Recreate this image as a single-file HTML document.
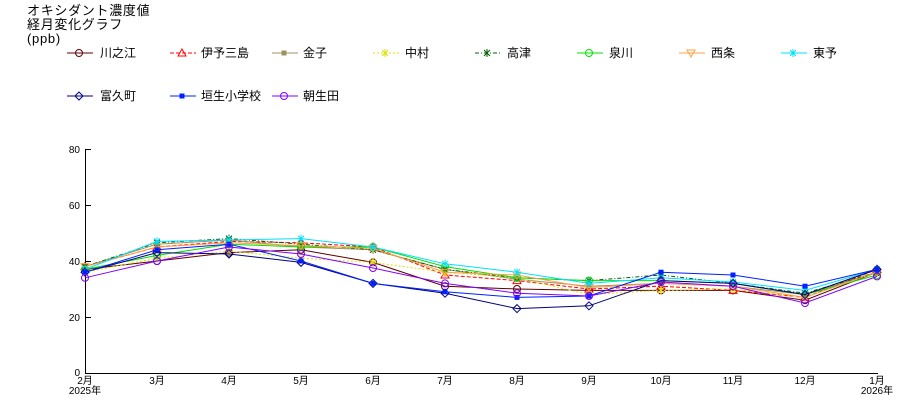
<!DOCTYPE html>
<html><head><meta charset="utf-8"><style>
body{margin:0;background:#fff;}
svg text{font-family:"Liberation Sans","Noto Sans CJK JP",sans-serif;}
</style></head><body>
<svg id="c" width="900" height="400" xmlns="http://www.w3.org/2000/svg">
<g font-size="13" fill="#000" letter-spacing="0.7">
<text x="27" y="15">オキシダント濃度値</text>
<text x="27" y="29">経月変化グラフ</text>
<text x="27" y="43">(ppb)</text>
</g>
<g font-size="12" fill="#000">
<text x="100" y="57">川之江</text>
<text x="201" y="57">伊予三島</text>
<text x="303" y="57">金子</text>
<text x="405" y="57">中村</text>
<text x="507" y="57">高津</text>
<text x="609" y="57">泉川</text>
<text x="711" y="57">西条</text>
<text x="813" y="57">東予</text>
<text x="100" y="100">富久町</text>
<text x="201" y="100">垣生小学校</text>
<text x="303" y="100">朝生田</text>
</g>
<g stroke="#000" stroke-width="1" fill="none">
<line x1="85.5" y1="149" x2="85.5" y2="373"/>
<line x1="85" y1="373.5" x2="878" y2="373.5"/>
<line x1="85" y1="149.5" x2="91" y2="149.5"/>
<line x1="85" y1="205.5" x2="91" y2="205.5"/>
<line x1="85" y1="261.5" x2="91" y2="261.5"/>
<line x1="85" y1="317.5" x2="91" y2="317.5"/>
</g>
<g font-size="10" fill="#000" text-anchor="end">
<text x="80" y="153">80</text>
<text x="80" y="209">60</text>
<text x="80" y="265">40</text>
<text x="80" y="321">20</text>
<text x="80" y="376">0</text>
</g>
<g font-size="10" fill="#000" text-anchor="middle">
<text x="85" y="384">2月</text><text x="85" y="394">2025年</text>
<text x="157" y="384">3月</text>
<text x="229" y="384">4月</text>
<text x="301" y="384">5月</text>
<text x="373" y="384">6月</text>
<text x="445" y="384">7月</text>
<text x="517" y="384">8月</text>
<text x="589" y="384">9月</text>
<text x="661" y="384">10月</text>
<text x="733" y="384">11月</text>
<text x="805" y="384">12月</text>
<text x="877" y="384">1月</text><text x="877" y="394">2026年</text>
</g>
<g id="series"></g>
</svg>
<script>
var S=[
["#600000","","o",[37,40,43,44,39.5,31,30,29.5,29.5,29.5,26,36],67,53],
["#ff0000","4,2","t",[38,45,47,46.5,45,35,33,30,31,29.5,27,37],170,53],
["#a09060","","s",[38,46,47.5,45,44,37,33.5,31,32,31,28,36],272,53],
["#e0e000","2,2","*",[36,41,43.5,41,39.5,36,34,28,29.5,30,27,36],373,53],
["#006000","4,2,1,2","x",[38,46.5,48,46,44,37,34,33,35,32,28.5,36],475,53],
["#00e000","","o",[37,42,46,45,45,38,34,33,33,32,28,35],577,53],
["#ffa040","","v",[38,45,46.5,45.5,44.5,36,35,30.5,32,31,27,36],679,53],
["#00e0ff","","*",[37,47,47.5,48,45,39,36,32,34,32.5,29.5,37],781,53],
["#000080","","d",[36,43,42.5,39.5,32,28.5,23,24,33,32,28,37],67,96],
["#0020ff","","s",[36,44,46,40,32,29,27,27.5,36,35,31,37],170,96],
["#8000ff","","o",[34,40,45,42.5,37.5,32,28.5,27.5,32.5,31,25,34.5],272,96]
];
var g=document.getElementById("series"),ns="http://www.w3.org/2000/svg";
function el(t,a){var e=document.createElementNS(ns,t);for(var k in a)e.setAttribute(k,a[k]);g.appendChild(e);return e;}
function mk(m,x,y,c){var a={stroke:c,fill:"none","stroke-width":1};
 if(m=="o"){a.cx=x;a.cy=y;a.r=3.5;el("circle",a);}
 else if(m=="t"){a.points=(x)+","+(y-4)+" "+(x-4)+","+(y+3)+" "+(x+4)+","+(y+3);el("polygon",a);}
 else if(m=="v"){a.points=(x)+","+(y+4)+" "+(x-4)+","+(y-3)+" "+(x+4)+","+(y-3);el("polygon",a);}
 else if(m=="d"){a.points=x+","+(y-4)+" "+(x+4)+","+y+" "+x+","+(y+4)+" "+(x-4)+","+y;el("polygon",a);}
 else if(m=="s"){a.x=x-2;a.y=y-2;a.width=4;a.height=4;a.fill=c;el("rect",a);}
 else {el("path",{d:"M"+(x-3)+" "+(y-3)+"L"+(x+3)+" "+(y+3)+"M"+(x+3)+" "+(y-3)+"L"+(x-3)+" "+(y+3)+"M"+x+" "+(y-4)+"L"+x+" "+(y+4),stroke:c,"stroke-width":1});}
}
S.forEach(function(s){
 var pts=s[3].map(function(v,i){return [85+72*i,373-v*2.8];});
 el("polyline",{points:pts.map(function(p){return p.join(",")}).join(" "),fill:"none",stroke:s[0],"stroke-width":1,"stroke-dasharray":s[1]||"none"});
 pts.forEach(function(p){mk(s[2],p[0],p[1],s[0]);});
 el("line",{x1:s[4],y1:s[5],x2:s[4]+26,y2:s[5],stroke:s[0],"stroke-width":1,"stroke-dasharray":s[1]||"none"});
 mk(s[2],s[4]+12,s[5],s[0]);
});
</script>
</body></html>
